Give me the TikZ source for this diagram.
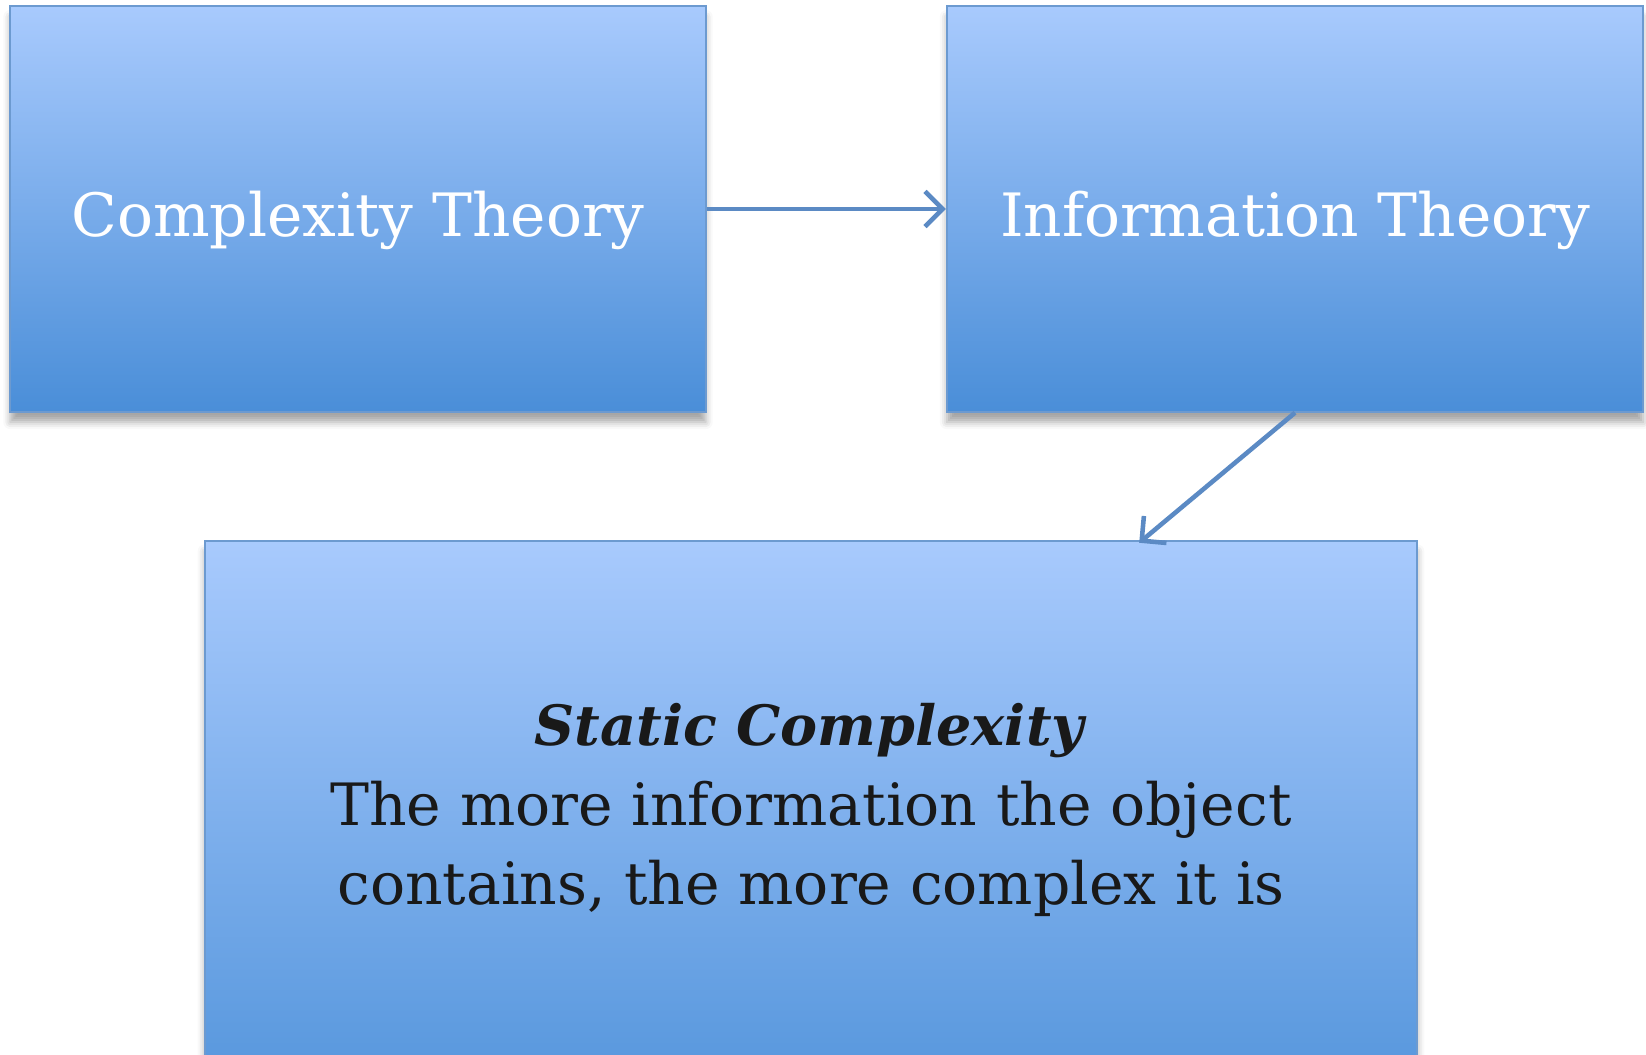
\documentclass[tikz,border=0pt]{standalone}
\usepackage{fontspec}
\setmainfont{DejaVu Serif}
\usepackage{tikz}
\usetikzlibrary{positioning,arrows.meta,shadows.blur}
\definecolor{boxtop}{HTML}{A8CAFD}
\definecolor{boxbot}{HTML}{4A8ED8}
\definecolor{boxbotlow}{HTML}{5797DD}
\definecolor{boxedge}{HTML}{6C9AD0}
\definecolor{linkblue}{HTML}{5B8AC4}

\tikzset{
  box/.style={draw=boxedge, line width=0.6pt, top color=boxtop, bottom color=boxbot,
    blur shadow={shadow xshift=0pt, shadow yshift=-3pt, shadow blur radius=2pt, shadow opacity=35},
    inner sep=0pt, align=center},
  toptext/.style={text=white, font=\fontsize{17}{20}\selectfont, text height=0.54cm, text depth=0pt},
  link/.style={draw=linkblue, line width=1.3pt, -{Straight Barb[length=5pt, width=10pt, line width=1.3pt]}}
}

\begin{document}
\begin{tikzpicture}[x=0.01cm, y=-0.01cm]
  % page
  \useasboundingbox (0,0) rectangle (1646,1055);
  \clip (0,0) rectangle (1646,1055);
  % top row
  \node[box, toptext, minimum width=6.95cm, minimum height=4.05cm] (ct) at (358,209) {Complexity Theory};
  \node[box, toptext, minimum width=6.96cm, minimum height=4.05cm] (it) at (1295,209) {Information Theory};
  % bottom box, cut by the page edge
  \node[box, bottom color=boxbotlow, minimum width=12.12cm, minimum height=5.38cm, text=black!90,
        font=\fontsize{16.6}{22.5}\selectfont] (sc) at (811,810)
    {{\fontsize{15.8}{22.5}\selectfont\textbf{\textit{Static Complexity}}}\\The more information the object\\contains, the more complex it is};
  \coordinate (sctip) at ([xshift=3.28cm, yshift=-0.03cm]sc.north);
  % links
  \draw[link] (ct.east) -- (it.west);
  \draw[link] (it.south) -- (sctip);
\end{tikzpicture}
\end{document}
